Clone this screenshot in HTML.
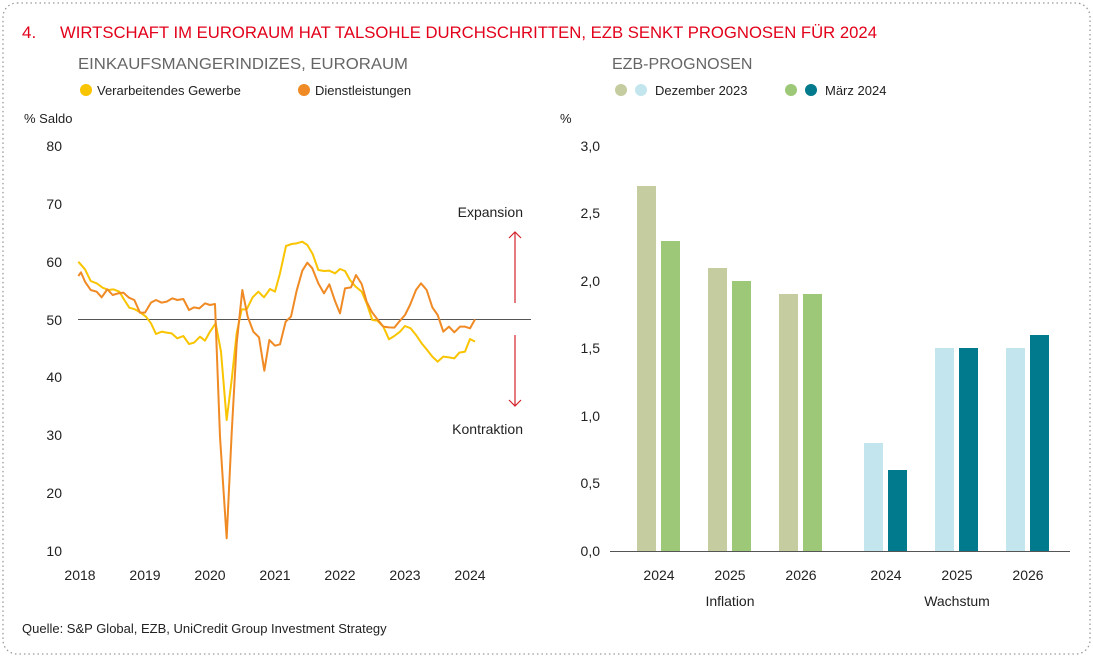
<!DOCTYPE html>
<html><head><meta charset="utf-8"><style>
body{margin:0;background:#fff;}
svg{display:block;font-family:"Liberation Sans",sans-serif;}
</style></head><body>
<svg width="1093" height="657" viewBox="0 0 1093 657" xmlns="http://www.w3.org/2000/svg">
<rect x="3" y="3" width="1087" height="651" rx="14" fill="none" stroke="#999" stroke-width="1.3" stroke-dasharray="1.5 3"/>
<text x="22" y="38" font-size="17" fill="#e2001a">4.</text>
<text x="60" y="38" font-size="17" fill="#e2001a" textLength="817" lengthAdjust="spacingAndGlyphs">WIRTSCHAFT IM EURORAUM HAT TALSOHLE DURCHSCHRITTEN, EZB SENKT PROGNOSEN FÜR 2024</text>
<text x="78" y="69" font-size="16" fill="#666" textLength="330" lengthAdjust="spacingAndGlyphs">EINKAUFSMANGERINDIZES, EURORAUM</text>
<circle cx="86" cy="90" r="6" fill="#f9c400"/><text x="97" y="95" font-size="13" fill="#222">Verarbeitendes Gewerbe</text>
<circle cx="304" cy="90" r="6" fill="#f08a24"/><text x="315" y="95" font-size="13" fill="#222">Dienstleistungen</text>
<text x="612" y="69" font-size="16" fill="#666">EZB-PROGNOSEN</text>
<circle cx="621" cy="90" r="6" fill="#c5cc9f"/><circle cx="641" cy="90" r="6" fill="#c3e6ee"/><text x="655" y="95" font-size="13" fill="#222">Dezember 2023</text>
<circle cx="791" cy="90" r="6" fill="#9dc878"/><circle cx="811" cy="90" r="6" fill="#007a8c"/><text x="825" y="95" font-size="13" fill="#222">März 2024</text>
<text x="24" y="123" font-size="13" fill="#222">% Saldo</text>
<g font-size="14" fill="#222" text-anchor="end">
<text x="62" y="151">80</text><text x="62" y="209">70</text><text x="62" y="267">60</text><text x="62" y="325">50</text><text x="62" y="382">40</text><text x="62" y="440">30</text><text x="62" y="498">20</text><text x="62" y="556">10</text>
</g>
<g font-size="14" fill="#222" text-anchor="middle">
<text x="80" y="580">2018</text><text x="145" y="580">2019</text><text x="210" y="580">2020</text><text x="275" y="580">2021</text><text x="340" y="580">2022</text><text x="405" y="580">2023</text><text x="470" y="580">2024</text>
</g>
<line x1="78" y1="319.5" x2="531" y2="319.5" stroke="#555" stroke-width="1"/>
<g transform="translate(70,220) scale(0.33333)" fill="none" stroke-width="6" stroke-linejoin="round">
<polyline stroke="#f9c400" points="25,125 45,148 62,183 80,190 98,203 115,210 130,208 148,215 163,240 178,263 195,268 212,278 228,290 243,310 258,342 275,335 290,338 305,340 322,355 340,348 357,372 372,368 390,350 405,362 420,335 437,310 453,395 470,600 485,480 500,340 515,268 530,268 548,232 565,215 582,232 600,207 615,215 630,160 648,78 665,72 680,70 697,65 712,75 728,102 745,150 762,153 778,152 795,160 810,147 825,153 840,180 857,200 875,215 890,250 907,300 922,302 940,320 957,358 973,348 990,335 1005,318 1022,325 1038,345 1055,370 1070,388 1087,410 1103,425 1120,410 1137,412 1153,415 1168,398 1185,395 1200,357 1215,365"/>
<polyline stroke="#f08a24" points="25,168 33,157 45,185 62,210 80,215 95,232 112,208 128,225 145,220 160,218 177,233 193,240 210,278 225,278 243,248 258,240 275,248 290,245 307,235 322,240 340,237 357,270 372,262 388,265 405,250 420,255 435,252 450,650 470,955 485,640 500,370 517,210 533,290 550,335 567,352 583,452 598,360 615,377 630,373 647,305 663,290 680,212 697,152 712,128 727,145 745,190 762,220 778,193 795,243 810,280 825,205 843,202 858,165 875,192 890,245 905,275 920,295 940,320 957,322 973,323 990,302 1005,285 1020,255 1038,210 1053,190 1070,210 1087,262 1103,285 1120,335 1137,320 1153,337 1170,320 1185,320 1200,325 1215,298"/>
</g>
<g stroke="#d2232a" stroke-width="1.2" fill="none">
<line x1="515" y1="303" x2="515" y2="232"/><polyline points="509,238 515,232 521,238"/>
<line x1="515" y1="335" x2="515" y2="406"/><polyline points="509,400 515,406 521,400"/>
</g>
<text x="523" y="217" font-size="14" fill="#222" text-anchor="end">Expansion</text>
<text x="523" y="434" font-size="14" fill="#222" text-anchor="end">Kontraktion</text>
<text x="560" y="123" font-size="13" fill="#222">%</text>
<g font-size="14" fill="#222" text-anchor="end">
<text x="600" y="151">3,0</text><text x="600" y="218">2,5</text><text x="600" y="286">2,0</text><text x="600" y="353">1,5</text><text x="600" y="421">1,0</text><text x="600" y="488">0,5</text><text x="600" y="556">0,0</text>
</g>
<rect x="637" y="186" width="19" height="365" fill="#c5cc9f"/><rect x="661" y="241" width="19" height="310" fill="#9dc878"/>
<rect x="708" y="268" width="19" height="283" fill="#c5cc9f"/><rect x="732" y="281" width="19" height="270" fill="#9dc878"/>
<rect x="779" y="294" width="19" height="257" fill="#c5cc9f"/><rect x="803" y="294" width="19" height="257" fill="#9dc878"/>
<rect x="864" y="443" width="19" height="108" fill="#c3e6ee"/><rect x="888" y="470" width="19" height="81" fill="#007a8c"/>
<rect x="935" y="348" width="19" height="203" fill="#c3e6ee"/><rect x="959" y="348" width="19" height="203" fill="#007a8c"/>
<rect x="1006" y="348" width="19" height="203" fill="#c3e6ee"/><rect x="1030" y="335" width="19" height="216" fill="#007a8c"/>
<line x1="610" y1="551.5" x2="1070" y2="551.5" stroke="#555" stroke-width="1"/>
<g font-size="14" fill="#222" text-anchor="middle">
<text x="659" y="580">2024</text><text x="730" y="580">2025</text><text x="801" y="580">2026</text>
<text x="886" y="580">2024</text><text x="957" y="580">2025</text><text x="1028" y="580">2026</text>
<text x="730" y="606">Inflation</text><text x="957" y="606">Wachstum</text>
</g>
<text x="22" y="633" font-size="13" fill="#222">Quelle: S&amp;P Global, EZB, UniCredit Group Investment Strategy</text>
</svg>
</body></html>
